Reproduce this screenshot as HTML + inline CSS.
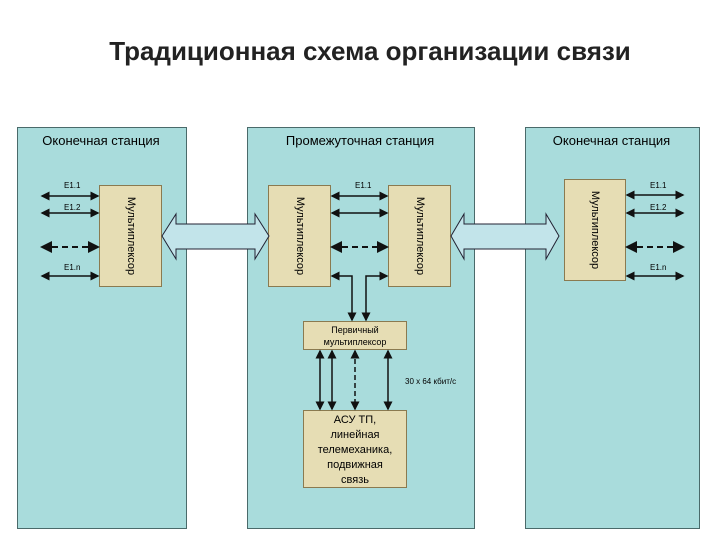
<!DOCTYPE html><html><head><meta charset="utf-8"><style>
body{margin:0;width:720px;height:540px;background:#fff;font-family:"Liberation Sans",sans-serif;position:relative;overflow:hidden}
.a{position:absolute}
.p{position:absolute;background:#a9dcdc;border:1px solid #4a6a6a;top:127px;height:400px}
.m{position:absolute;background:#e6ddb4;border:1px solid #8a7a50;box-sizing:border-box}
.v{position:absolute;left:50%;top:50%;transform:translate(-50%,-50%) rotate(90deg);font-size:11px;white-space:nowrap}
.l{font-size:8px;position:absolute}
</style></head><body>
<div class="a" style="left:0;width:720px;top:36px;text-align:center;font-size:26px;font-weight:bold;color:#222;padding-left:10px">Традиционная схема организации связи</div>
<div class="p" style="left:17px;width:168px"></div>
<div class="p" style="left:247px;width:226px"></div>
<div class="p" style="left:525px;width:173px"></div>
<div class="a" style="left:17px;width:168px;top:133px;text-align:center;font-size:13px">Оконечная станция</div>
<div class="a" style="left:247px;width:226px;top:133px;text-align:center;font-size:13px">Промежуточная станция</div>
<div class="a" style="left:525px;width:173px;top:133px;text-align:center;font-size:13px">Оконечная станция</div>
<div class="m" style="left:99px;top:185px;width:63px;height:102px"><div class="v">Мультиплексор</div></div>
<div class="m" style="left:268px;top:185px;width:63px;height:102px"><div class="v">Мультиплексор</div></div>
<div class="m" style="left:388px;top:185px;width:63px;height:102px"><div class="v">Мультиплексор</div></div>
<div class="m" style="left:564px;top:179px;width:62px;height:102px"><div class="v">Мультиплексор</div></div>
<div class="m" style="left:303px;top:321px;width:104px;height:29px;font-size:9px;text-align:center;line-height:12px;padding-top:2px">Первичный<br>мультиплексор</div>
<div class="m" style="left:303px;top:410px;width:104px;height:78px;font-size:11px;text-align:center;line-height:15px;padding-top:2px">АСУ ТП,<br>линейная<br>телемеханика,<br>подвижная<br>связь</div>
<div class="l" style="left:405px;top:377px">30 x 64 кбит/с</div>
<div class="l" style="left:64px;top:181px">E1.1</div><div class="l" style="left:64px;top:203px">E1.2</div><div class="l" style="left:64px;top:263px">E1.n</div>
<div class="l" style="left:355px;top:181px">E1.1</div>
<div class="l" style="left:650px;top:181px">E1.1</div><div class="l" style="left:650px;top:203px">E1.2</div><div class="l" style="left:650px;top:263px">E1.n</div>
<svg class="a" style="left:0;top:0" width="720" height="540">
<defs><marker id="ar" markerWidth="6" markerHeight="6" refX="5" refY="3" orient="auto-start-reverse"><path d="M0,0L6,3L0,6z" fill="#111"/></marker></defs>
<g stroke="#111" stroke-width="1.5" fill="none" marker-start="url(#ar)" marker-end="url(#ar)">
<line x1="42" y1="196" x2="98" y2="196"/><line x1="42" y1="213" x2="98" y2="213"/><line x1="42" y1="247" x2="98" y2="247" stroke-dasharray="6,4" stroke-width="2"/><line x1="42" y1="276" x2="98" y2="276"/>
<line x1="332" y1="196" x2="387" y2="196"/><line x1="332" y1="213" x2="387" y2="213"/><line x1="332" y1="247" x2="387" y2="247" stroke-dasharray="6,4" stroke-width="2"/>
<line x1="627" y1="195" x2="683" y2="195"/><line x1="627" y1="213" x2="683" y2="213"/><line x1="627" y1="247" x2="683" y2="247" stroke-dasharray="6,4" stroke-width="2"/><line x1="627" y1="276" x2="683" y2="276"/>
<polyline points="332,276 352,276 352,320"/><polyline points="366,320 366,276 387,276"/>
<line x1="320" y1="351" x2="320" y2="409"/><line x1="332" y1="351" x2="332" y2="409"/><line x1="355" y1="351" x2="355" y2="409" stroke-dasharray="5,3"/><line x1="388" y1="351" x2="388" y2="409"/>
</g>
<g fill="#c2e4ea" stroke="#223" stroke-width="1">
<path d="M162,236 L176,214 L176,224 L255,224 L255,214 L269,236 L255,259 L255,249 L176,249 L176,259 Z"/>
<path d="M451,236 L464,214 L464,224 L546,224 L546,214 L559,236 L546,259 L546,249 L464,249 L464,259 Z"/>
</g>
</svg>
</body></html>
